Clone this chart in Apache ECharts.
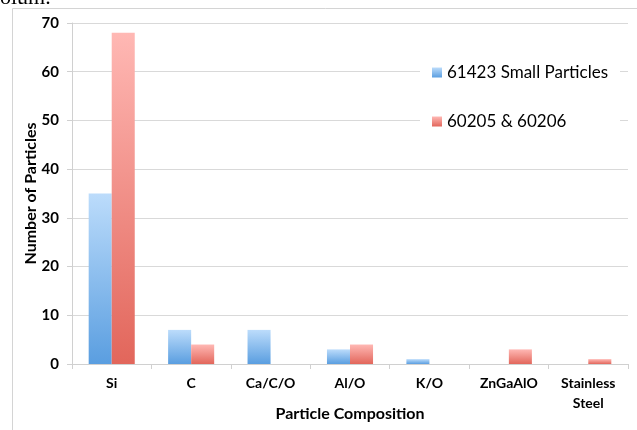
<!DOCTYPE html>
<html>
<head>
<meta charset="utf-8">
<script src="https://cdn.jsdelivr.net/npm/echarts@6/dist/echarts.min.js"></script>
<style>html,body{margin:0;padding:0;background:#fff;}#chart{width:637px;height:430px;}</style>
</head>
<body>
<div id="chart"></div>
<script>
var categories = ['Si', 'C', 'Ca/C/O', 'Al/O', 'K/O', 'ZnGaAlO', 'Stainless\nSteel'];
var seriesNames = ['61423 Small Particles', '60205 & 60206'];
var smallParticles = [35, 7, 7, 3, 1, 0, 0];
var samples60205 = [68, 4, 0, 4, 0, 3, 1];
var yTicks = { min: 0, max: 70, interval: 10 };

var FONT = 'Lato, "Open Sans", sans-serif';
function grad(top, bottom) {
  return new echarts.graphic.LinearGradient(0, 0, 0, 1, [
    { offset: 0, color: top }, { offset: 1, color: bottom }
  ]);
}
var chart = echarts.init(document.getElementById('chart'));
chart.setOption({
  animation: false,
  backgroundColor: '#fff',
  graphic: [
    { type: 'rect', shape: { x: 12.5, y: 8.5, width: 700, height: 500 },
      style: { fill: 'none', stroke: '#d4d4d4', lineWidth: 1 }, silent: true, z: 0 },
    { type: 'text', left: 0, top: -13,
      style: { text: 'olum.', font: '22px "Liberation Serif", serif', fill: '#000' } }
  ],
  grid: { left: 72, right: 9, top: 23, bottom: 66, outerBoundsMode: 'none', containLabel: false },
  legend: {
    orient: 'vertical', left: 420, top: 62,
    itemWidth: 10, itemHeight: 10, itemGap: 32,
    backgroundColor: '#fff', padding: [2, 12, 2, 12],
    icon: 'rect',
    textStyle: { fontFamily: FONT, fontSize: 17, color: '#000' },
    data: seriesNames
  },
  xAxis: {
    type: 'category', data: categories,
    name: 'Particle Composition', nameLocation: 'middle', nameGap: 42, nameMoveOverlap: false,
    nameTextStyle: { fontFamily: FONT, fontSize: 16, fontWeight: 'bold', color: '#000' },
    axisLine: { lineStyle: { color: '#d0d0d0' } },
    axisTick: { show: true, length: 5, lineStyle: { color: '#d0d0d0' } },
    axisLabel: { fontFamily: FONT, fontSize: 14, fontWeight: 'bold', color: '#000', margin: 9, lineHeight: 20, interval: 0 }
  },
  yAxis: {
    type: 'value', min: yTicks.min, max: yTicks.max, interval: yTicks.interval,
    name: 'Number of Particles', nameLocation: 'middle', nameGap: 33, nameMoveOverlap: false,
    nameTextStyle: { fontFamily: FONT, fontSize: 16, fontWeight: 'bold', color: '#000' },
    axisLine: { show: true, lineStyle: { color: '#d0d0d0' } },
    axisTick: { show: true, length: 5, lineStyle: { color: '#d0d0d0' } },
    splitLine: { lineStyle: { color: '#d9d9d9' } },
    axisLabel: { fontFamily: FONT, fontSize: 15, fontWeight: 'bold', color: '#000', margin: 13 }
  },
  series: [
    { name: seriesNames[0], type: 'bar', data: smallParticles, barGap: '0%', barCategoryGap: '42%',
      itemStyle: { color: grad('#bcdcfb', '#5a9ee0') } },
    { name: seriesNames[1], type: 'bar', data: samples60205, barGap: '0%', barCategoryGap: '42%',
      itemStyle: { color: grad('#ffb8b4', '#e2665b') } }
  ]
});
</script>
</body>
</html>
